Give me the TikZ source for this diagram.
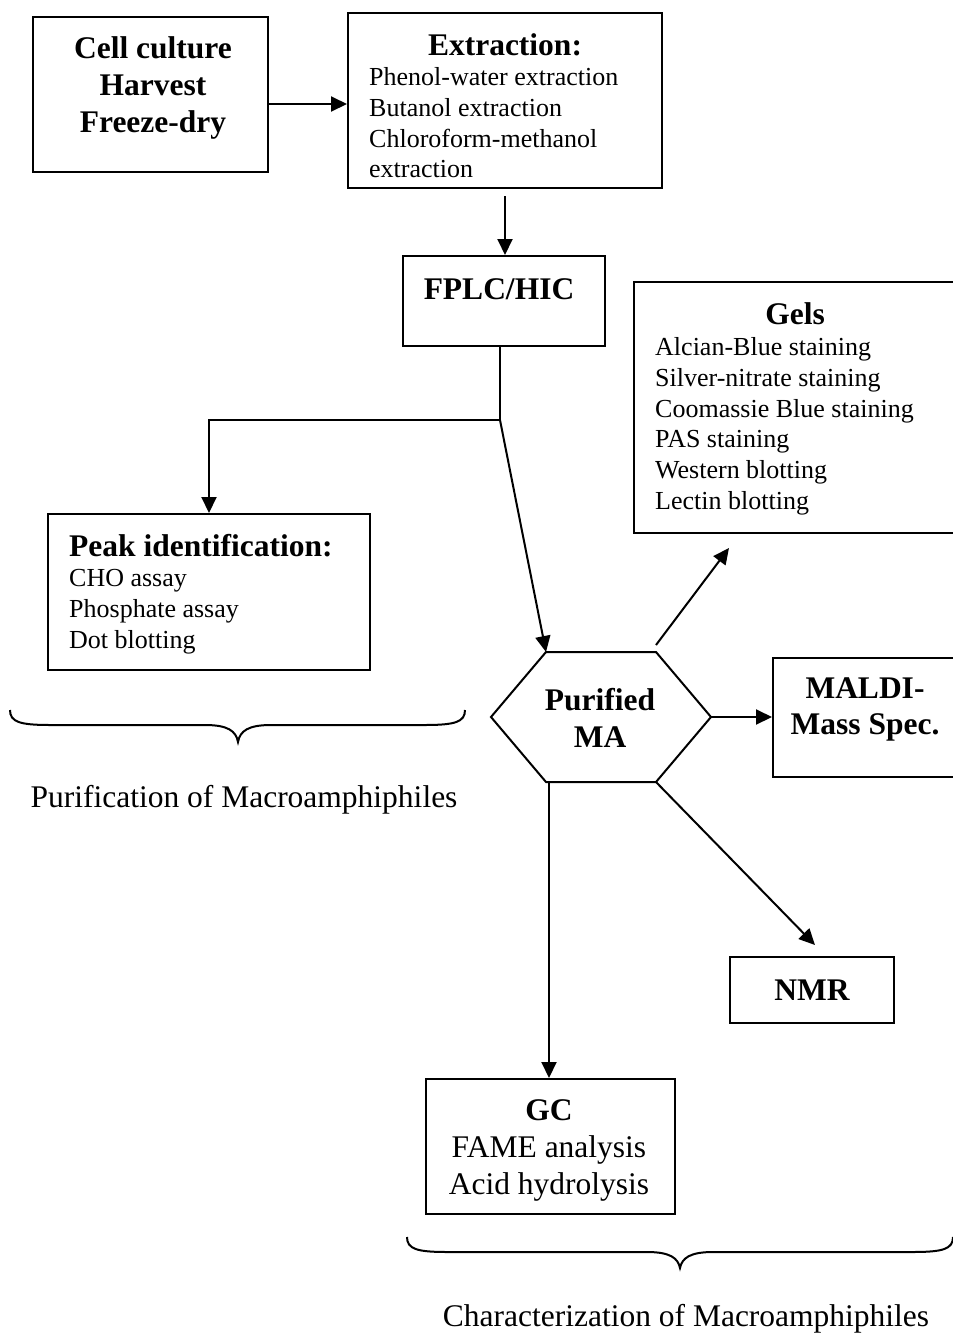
\documentclass[tikz,border=0pt]{standalone}
\usepackage{fontspec}
\setmainfont{Liberation Serif}
\usetikzlibrary{arrows.meta}
\begin{document}
\begin{tikzpicture}[x=1pt,y=-1pt,
  box/.style={draw, line width=2pt, rectangle, inner sep=0pt},
  hdr/.style={font=\fontsize{31.5}{37}\selectfont\bfseries, inner sep=0pt, anchor=base},
  item/.style={font=\fontsize{26}{31}\selectfont, inner sep=0pt, anchor=base west},
  bigitem/.style={font=\fontsize{31.5}{37}\selectfont, inner sep=0pt, anchor=base},
  link/.style={line width=2pt},
  arr/.style={line width=2pt, -{Triangle[length=16pt,width=15pt]}},
  brace/.style={line width=2pt}]
\useasboundingbox (0,0) rectangle (953,1334);

% ---- boxes ----
\node[box, minimum width=235pt, minimum height=155pt] (cell)  at (150.5,94.5) {};
\node[box, minimum width=314pt, minimum height=175pt] (extr)  at (505,100.5) {};
\node[box, minimum width=202pt, minimum height=90pt]  (fplc)  at (504,301) {};
\node[box, minimum width=321pt, minimum height=251pt] (gels)  at (794.5,407.5) {};
\node[box, minimum width=322pt, minimum height=156pt] (peak)  at (209,592) {};
\node[box, minimum width=182pt, minimum height=119pt] (maldi) at (864,717.5) {};
\node[box, minimum width=164pt, minimum height=66pt]  (nmr)   at (812,990) {};
\node[box, minimum width=249pt, minimum height=135pt] (gc)    at (550.5,1146.5) {};

% ---- hexagon ----
\coordinate (hx-l)  at (491,717);
\coordinate (hx-tl) at (546,652);
\coordinate (hx-tr) at (656,652);
\coordinate (hx-r)  at (711,717);
\coordinate (hx-br) at (656,782);
\coordinate (hx-bl) at (546,782);
\coordinate (hx-b)  at (549,782);
\draw[line width=2pt, line join=miter] (hx-l) -- (hx-tl) -- (hx-tr) -- (hx-r) -- (hx-br) -- (hx-bl) -- cycle;

% ---- texts ----
\node[hdr] (c1) at (153,58)  {Cell culture};
\node[hdr] (c2) at (153,95)  {Harvest};
\node[hdr] (c3) at (153,132) {Freeze-dry};

\node[hdr] (et) at (505,55) {Extraction:};
\node[item] (e1) at (369,85)  {Phenol-water extraction};
\node[item] (e2) at (369,116) {Butanol extraction};
\node[item] (e3) at (369,147) {Chloroform-methanol};
\node[item] (e4) at (369,177) {extraction};

\node[hdr] (ft) at (499,299) {FPLC/HIC};

\node[hdr] (gt) at (795,324) {Gels};
\node[item] (g1) at (655,355) {Alcian-Blue staining};
\node[item] (g2) at (655,386) {Silver-nitrate staining};
\node[item] (g3) at (655,417) {Coomassie Blue staining};
\node[item] (g4) at (655,447) {PAS staining};
\node[item] (g5) at (655,478) {Western blotting};
\node[item] (g6) at (655,509) {Lectin blotting};

\node[hdr, anchor=base west] (pt) at (69,556) {Peak identification:};
\node[item] (p1) at (69,586) {CHO assay};
\node[item] (p2) at (69,617) {Phosphate assay};
\node[item] (p3) at (69,648) {Dot blotting};

\node[hdr] (m1) at (600,710) {Purified};
\node[hdr] (m2) at (600,747) {MA};

\node[hdr] (md1) at (865,698) {MALDI-};
\node[hdr] (md2) at (865,734) {Mass Spec.};

\node[hdr] (nt) at (812,1000) {NMR};

\node[hdr] (gct) at (549,1120) {GC};
\node[bigitem] (gc1) at (549,1157) {FAME analysis};
\node[bigitem] (gc2) at (549,1194) {Acid hydrolysis};

\node[bigitem] (lab1) at (244,807)  {Purification of Macroamphiphiles};
\node[bigitem] (lab2) at (686,1326) {Characterization of Macroamphiphiles};

% ---- connectors ----
\draw[arr] (cell.east |- 0,104) -- (extr.west |- 0,104);
\draw[arr, shorten <=7pt] (extr.south) -- (fplc.north -| extr.south);
\coordinate (jn) at (500,420);
\draw[link] (fplc.south -| jn) -- (jn);
\draw[arr] (jn) -- (jn -| peak.north) -- (peak.north);
\draw[arr] (jn) -- (hx-tl);
\coordinate (gels-end) at (729,548);
\draw[arr] ([yshift=7pt]hx-tr) -- (gels-end);
\draw[arr] (hx-r) -- (maldi.west |- hx-r);
\coordinate (nmr-end) at (815,945);
\draw[arr] (hx-br) -- (nmr-end);
\draw[arr] (hx-b) -- (gc.north -| hx-b);

% ---- braces ----
\draw[brace] (10,710) .. controls (10,722) and (20,725) .. (50,725) -- (205,725)
  .. controls (228,725) and (236,731) .. (238,742)
  .. controls (240,731) and (248,725) .. (271,725) -- (425,725)
  .. controls (455,725) and (465,722) .. (465,710);
\draw[brace] (407,1237) .. controls (407,1249) and (417,1252) .. (447,1252) -- (647,1252)
  .. controls (670,1252) and (678,1258) .. (680,1268)
  .. controls (682,1258) and (690,1252) .. (713,1252) -- (913,1252)
  .. controls (943,1252) and (953,1249) .. (953,1237);
\end{tikzpicture}
\end{document}
